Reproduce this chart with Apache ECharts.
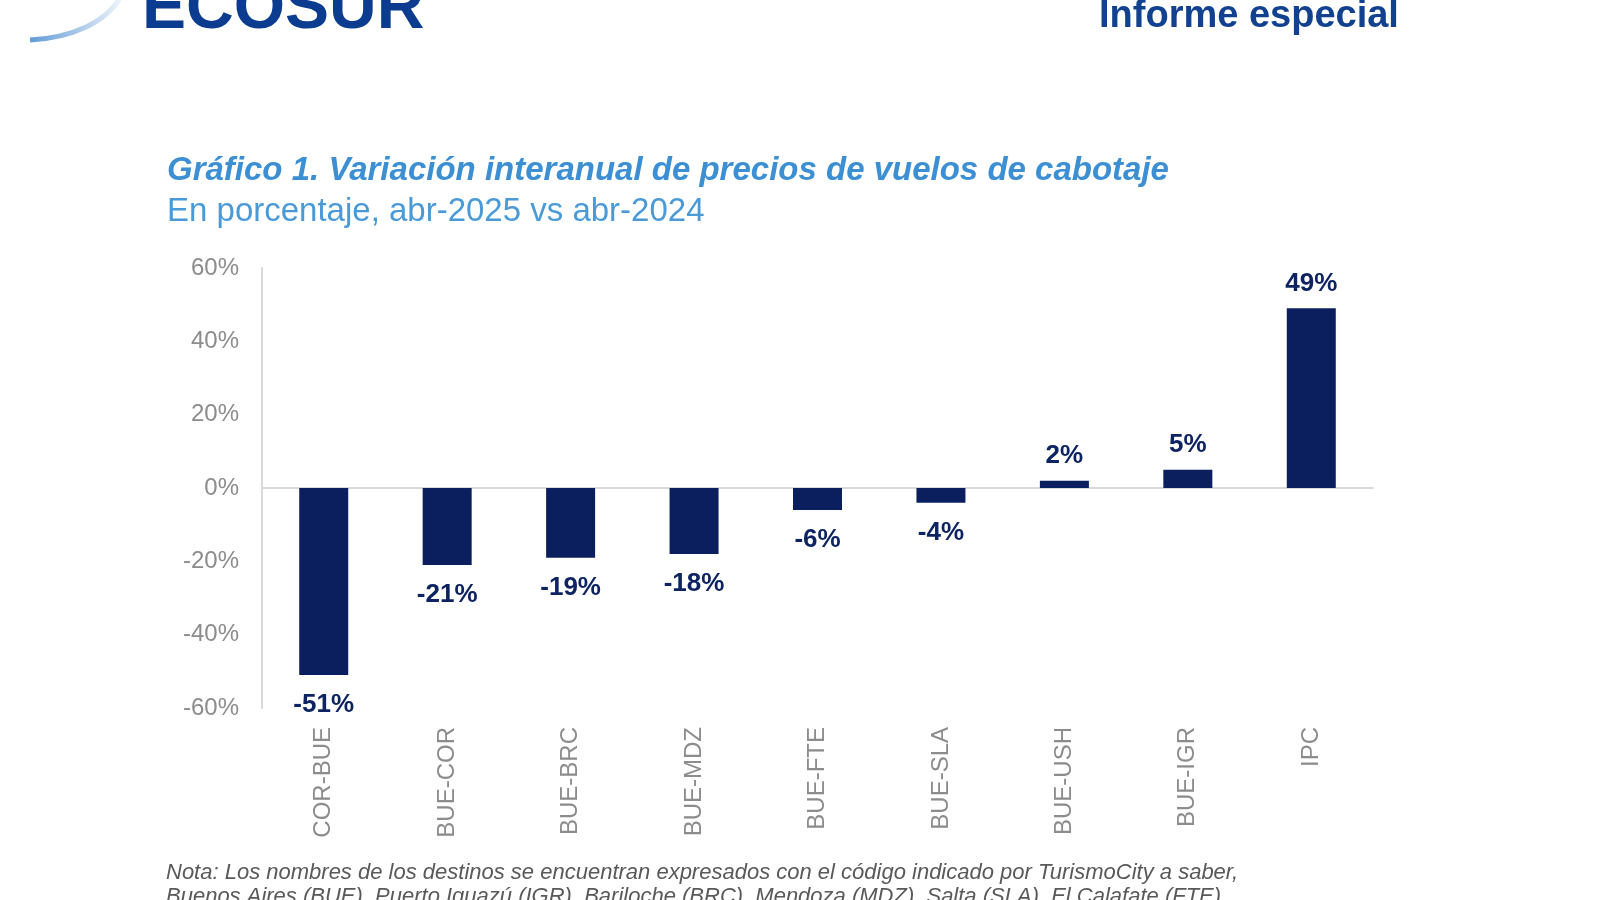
<!DOCTYPE html>
<html>
<head>
<meta charset="utf-8">
<script src="https://cdn.jsdelivr.net/npm/echarts@6/dist/echarts.min.js"></script>
<style>
  html, body { margin: 0; padding: 0; background: #ffffff; }
  #chart { width: 1600px; height: 900px; }
</style>
</head>
<body>
<div id="chart"></div>
<script>
const categories = ['COR-BUE', 'BUE-COR', 'BUE-BRC', 'BUE-MDZ', 'BUE-FTE', 'BUE-SLA', 'BUE-USH', 'BUE-IGR', 'IPC'];
const values = [-51, -21, -19, -18, -6, -4, 2, 5, 49];
const yTicks = { min: -60, max: 60, interval: 20 };

const titleText = 'Gráfico 1. Variación interanual de precios de vuelos de cabotaje';
const subtitleText = 'En porcentaje, abr-2025 vs abr-2024';
const noteLine1 = 'Nota: Los nombres de los destinos se encuentran expresados con el código indicado por TurismoCity a saber,';
const noteLine2 = 'Buenos Aires (BUE), Puerto Iguazú (IGR), Bariloche (BRC), Mendoza (MDZ), Salta (SLA), El Calafate (FTE),';

const navy = '#0b1f5e';
const font = "'Liberation Sans', Arial, sans-serif";

const chart = echarts.init(document.getElementById('chart'), null, { renderer: 'canvas' });

const seriesData = values.map(v => ({
  value: v,
  label: { position: v < 0 ? 'bottom' : 'top', distance: v < 0 ? 17 : 12 }
}));

chart.setOption({
  backgroundColor: '#ffffff',
  animation: false,
  textStyle: { fontFamily: font },
  title: {
    text: titleText,
    subtext: subtitleText,
    left: 162,
    top: 149,
    itemGap: 8,
    textStyle: { fontFamily: font, fontSize: 33, fontWeight: 'bold', fontStyle: 'italic', color: '#3b8fd2' },
    subtextStyle: { fontFamily: font, fontSize: 33, color: '#4a9ad8' }
  },
  grid: { left: 262, right: 227, top: 268, bottom: 192, containLabel: false },
  xAxis: {
    type: 'category',
    data: categories,
    axisLine: { show: true, onZero: true, lineStyle: { color: '#d9d9d9', width: 2 } },
    axisTick: { show: false },
    axisLabel: {
      rotate: 90,
      margin: 19,
      interval: 0,
      fontFamily: font,
      fontSize: 24,
      color: '#8c8c8c'
    },
    splitLine: { show: false }
  },
  yAxis: {
    type: 'value',
    min: yTicks.min,
    max: yTicks.max,
    interval: yTicks.interval,
    axisLine: { show: true, lineStyle: { color: '#d9d9d9', width: 2 } },
    axisTick: { show: false },
    splitLine: { show: false },
    axisLabel: {
      formatter: '{value}%',
      margin: 23,
      fontFamily: font,
      fontSize: 24,
      color: '#8c8c8c'
    }
  },
  series: [{
    type: 'bar',
    data: seriesData,
    barWidth: 49,
    itemStyle: { color: navy },
    label: {
      show: true,
      formatter: p => p.value + '%',
      fontFamily: font,
      fontSize: 26,
      fontWeight: 'bold',
      color: '#0e2462'
    }
  }],
  graphic: [
    {
      type: 'bezierCurve',
      shape: { x1: 30, y1: 40, cpx1: 72, cpy1: 38, cpx2: 106, cpy2: 22, x2: 120, y2: -2 },
      style: {
        fill: 'none',
        lineWidth: 5,
        stroke: new echarts.graphic.LinearGradient(0, 0, 1, 0, [
          { offset: 0, color: '#5d9ad4' },
          { offset: 0.6, color: '#b3cfec' },
          { offset: 1, color: '#eef4fb' }
        ])
      }
    },
    {
      type: 'text',
      left: 142,
      top: -23,
      style: {
        text: 'ECOSUR',
        font: "bold 66px 'Liberation Sans', Arial, sans-serif",
        fill: '#0b3c8f'
      }
    },
    {
      type: 'text',
      left: 1099,
      top: -2,
      style: {
        text: 'Informe especial',
        font: "bold 38px 'Liberation Sans', Arial, sans-serif",
        fill: '#12428f'
      }
    },
    {
      type: 'text',
      left: 166,
      top: 862,
      style: {
        text: noteLine1,
        font: "italic 22px 'Liberation Sans', Arial, sans-serif",
        fill: '#595959'
      }
    },
    {
      type: 'text',
      left: 166,
      top: 886,
      style: {
        text: noteLine2,
        font: "italic 22px 'Liberation Sans', Arial, sans-serif",
        fill: '#595959'
      }
    }
  ]
});
</script>
</body>
</html>
